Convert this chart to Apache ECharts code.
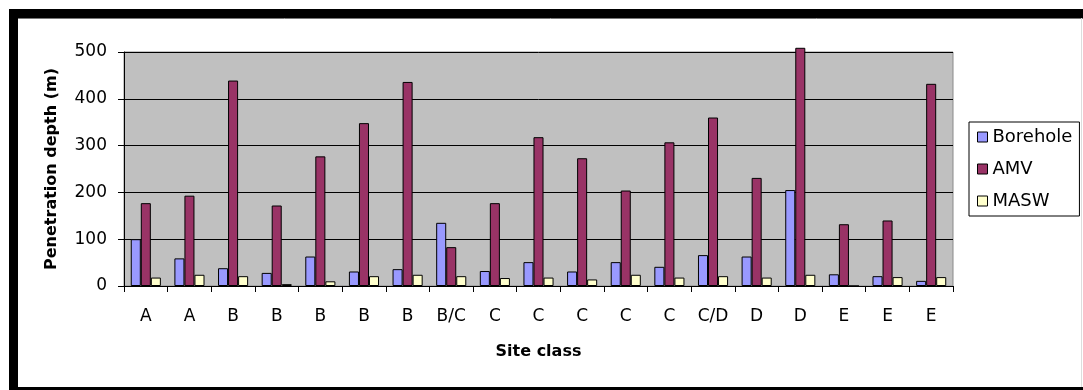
<!DOCTYPE html>
<html>
<head>
<meta charset="utf-8">
<script src="https://cdn.jsdelivr.net/npm/echarts@6/dist/echarts.min.js"></script>
<style>
html,body{margin:0;padding:0;background:#fff;}
#chart{width:1083px;height:390px;}
</style>
</head>
<body>
<div id="chart"></div>
<script>
var categories = ['A','A','B','B','B','B','B','B/C','C','C','C','C','C','C/D','D','D','E','E','E'];
var borehole = [100, 59, 38, 28, 63, 31, 36, 135, 32, 51, 31, 51, 41, 66, 63, 205, 25, 21, 11];
var amv      = [177, 193, 439, 172, 277, 348, 436, 83, 177, 318, 273, 204, 307, 360, 231, 509, 132, 140, 432];
var masw     = [18, 24, 21, 4, 10, 21, 24, 21, 17, 18, 14, 24, 18, 21, 18, 24, 0, 19, 19];
var yTicks = [0, 100, 200, 300, 400, 500];

var FONT = 'DejaVu Sans';
var chart = echarts.init(document.getElementById('chart'), null, {renderer:'canvas'});

function barSeries(name, data, color) {
  return {
    name: name, type: 'bar', data: data, clip: false,
    barGap: '0%', barCategoryGap: '31%',
    itemStyle: {color: color, borderColor: '#000', borderWidth: 1},
    emphasis: {disabled: true}
  };
}

chart.setOption({
  animation: false,
  backgroundColor: '#fff',
  textStyle: {fontFamily: FONT},
  grid: {
    left: 124, right: 130, top: 52, bottom: 104,
    show: true, backgroundColor: '#C0C0C0', borderColor: '#8a8a8a', borderWidth: 1
  },
  legend: {
    orient: 'vertical',
    left: 969, top: 122,
    padding: [6, 7, 6, 8],
    itemGap: 14,
    itemWidth: 10, itemHeight: 10,
    borderColor: '#000', borderWidth: 1,
    backgroundColor: '#fff',
    icon: 'rect',
    textStyle: {fontFamily: FONT, fontSize: 18, color: '#000', lineHeight: 18, padding: [0,0,0,0]},
    itemStyle: {borderColor: '#000', borderWidth: 1},
    data: ['Borehole', 'AMV', 'MASW']
  },
  xAxis: {
    type: 'category',
    data: categories,
    name: 'Site class',
    nameLocation: 'middle',
    nameGap: 58,
    nameTextStyle: {fontFamily: FONT, fontSize: 16, fontWeight: 'bold', color: '#000'},
    axisLine: {lineStyle: {color: '#000', width: 1}},
    axisTick: {show: true, length: 6, lineStyle: {color: '#000'}},
    axisLabel: {fontFamily: FONT, fontSize: 17, color: '#000', margin: 22, interval: 0}
  },
  yAxis: {
    type: 'value',
    min: yTicks[0], max: yTicks[yTicks.length-1], interval: 100,
    name: 'Penetration depth (m)',
    nameLocation: 'middle',
    nameGap: 64,
    nameTextStyle: {fontFamily: FONT, fontSize: 16, fontWeight: 'bold', color: '#000'},
    axisLine: {show: true, lineStyle: {color: '#000', width: 1}},
    axisTick: {show: true, length: 6, lineStyle: {color: '#000'}},
    axisLabel: {fontFamily: FONT, fontSize: 17, color: '#000', margin: 17},
    splitLine: {show: true, lineStyle: {color: '#000', width: 1}}
  },
  series: [
    barSeries('Borehole', borehole, '#9999FF'),
    barSeries('AMV', amv, '#993366'),
    barSeries('MASW', masw, '#FFFFCC')
  ],
  graphic: [
    {type: 'rect', shape: {x: 9, y: 9, width: 1074, height: 9}, style: {fill: '#000'}, silent: true},
    {type: 'rect', shape: {x: 9, y: 9, width: 9, height: 381}, style: {fill: '#000'}, silent: true},
    {type: 'rect', shape: {x: 9, y: 387, width: 1074, height: 3}, style: {fill: '#000'}, silent: true},
    {type: 'line', shape: {x1: 18, y1: 18.5, x2: 1083, y2: 18.5}, style: {stroke: '#777', lineWidth: 1}, silent: true},
    {type: 'line', shape: {x1: 1081.5, y1: 18, x2: 1081.5, y2: 387}, style: {stroke: '#ddd', lineWidth: 1}, silent: true}
  ]
});
</script>
</body>
</html>
